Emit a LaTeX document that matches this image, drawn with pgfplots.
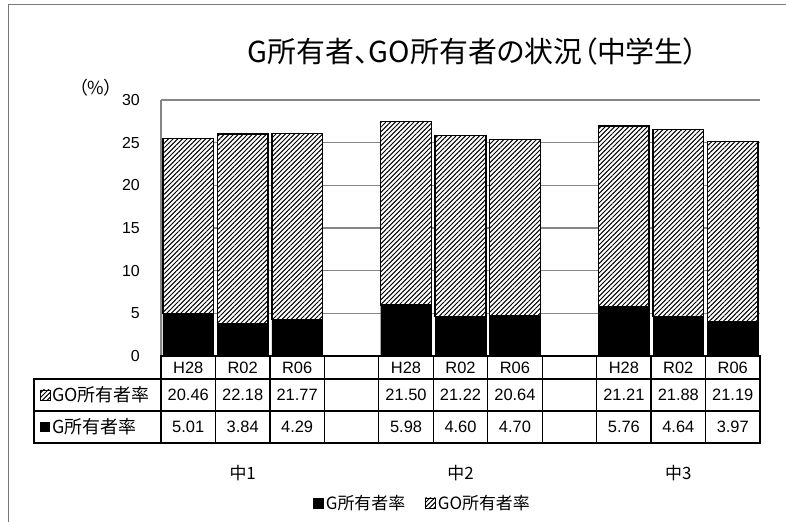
\documentclass[border=0pt]{standalone}
\usepackage{pgfplots}
\pgfplotsset{compat=1.18}
\usepackage{pgfplotstable}
\usetikzlibrary{patterns.meta}
\usepackage{fontspec}
\setmainfont{Liberation Sans}
\newfontfamily\jp[RawFeature=+palt]{Noto Sans CJK JP}
\definecolor{gridgray}{RGB}{134,134,134}
\definecolor{framegray}{RGB}{120,120,120}
\tikzset{hatch/.style={pattern={Lines[angle=45,distance=3.3bp,line width=1.0bp]}}}

\pgfplotstableread{
x G GO
0 5.01 20.46
1 3.84 22.18
2 4.29 21.77
4 5.98 21.50
5 4.60 21.22
6 4.70 20.64
8 5.76 21.21
9 4.64 21.88
10 3.97 21.19
}\datatable

\begin{document}
\begin{tikzpicture}
\useasboundingbox (0bp,0bp) rectangle (786bp,522bp);
\begin{axis}[
  at={(161bp,166bp)}, anchor=south west,
  scale only axis, width=599bp, height=256bp,
  xmin=-0.5, xmax=10.5, ymin=0, ymax=30,
  ytick={0,5,...,30}, xtick=\empty,
  ymajorgrids, grid style={gridgray, line width=1.2bp},
  axis line style={draw=none}, major tick length=0pt,
  yticklabel style={font=\fontsize{16}{19}\selectfont, anchor=east, inner sep=0pt, xshift=-21bp},
  /pgf/number format/assume math mode=true,
  ybar stacked, bar width=0.93,
  clip=false,
  legend columns=2,
  legend style={draw=none, fill=none, at={(0.4366,-0.574)}, anchor=center,
    font=\jp\fontsize{17}{20}\selectfont,
    /tikz/every even column/.append style={column sep=18bp}},
  legend image code/.code={\draw[#1, line width=0.6bp] (0bp,-5bp) rectangle (10bp,5bp);},
]
\addplot[fill=black, draw=black, line width=0.4bp] table[x=x, y=G] {\datatable};
\addplot[fill=white, draw=black, line width=1.4bp, postaction={hatch}] table[x=x, y=GO] {\datatable};
\legend{G所有者率, GO所有者率}
\draw[gridgray, line width=1.2bp] (rel axis cs:0,0) -- (rel axis cs:0,1);
\end{axis}

\begin{scope}[x=1bp, y=1bp]
\draw[framegray, line width=1bp] (8,0) -- (8,517) -- (786,517);

% data table below the plot
\begin{scope}[line width=1.2bp, line cap=rect]
\foreach \k in {0,...,11} {
  \pgfmathsetmacro\xx{161+54.4545*\k}
  \draw (\xx,166) -- (\xx,79);
}
\draw (161,166) -- (760,166);
\draw (34,143) -- (760,143);
\draw (34,111) -- (760,111);
\draw (34,79) -- (760,79);
\draw (34,143) -- (34,79);
\end{scope}

\foreach \i/\h/\a/\b in {0/H28/20.46/5.01, 1/R02/22.18/3.84, 2/R06/21.77/4.29,
                         4/H28/21.50/5.98, 5/R02/21.22/4.60, 6/R06/20.64/4.70,
                         8/H28/21.21/5.76, 9/R02/21.88/4.64, 10/R06/21.19/3.97} {
  \pgfmathsetmacro\cx{161+54.4545*(\i+0.5)}
  \node[font=\fontsize{16.5}{19}\selectfont, inner sep=0] at (\cx,154.5) {\h};
  \node[font=\fontsize{16.5}{19}\selectfont, inner sep=0] at (\cx,127) {\a};
  \node[font=\fontsize{16.5}{19}\selectfont, inner sep=0] at (\cx,95) {\b};
}

% row labels
\draw[line width=0.6bp, fill=white, postaction={hatch}] (40,122) rectangle (50,132);
\node[anchor=west, inner sep=0, font=\jp\fontsize{18}{21}\selectfont] at (52,127) {GO所有者率};
\fill (40,90) rectangle (50,100);
\node[anchor=west, inner sep=0, font=\jp\fontsize{18}{21}\selectfont] at (52,95) {G所有者率};

% group labels
\node[font=\jp\fontsize{17}{20}\selectfont] at (242.7,49) {中1};
\node[font=\jp\fontsize{17}{20}\selectfont] at (460.5,49) {中2};
\node[font=\jp\fontsize{17}{20}\selectfont] at (678.3,49) {中3};

% title and unit
\node[font=\jp\fontsize{29}{33}\selectfont] at (473,470) {G所有者、GO所有者の状況（中学生）};
\node[font=\jp\fontsize{18}{21}\selectfont] at (96,434) {（\%）};
\end{scope}
\end{tikzpicture}
\end{document}
